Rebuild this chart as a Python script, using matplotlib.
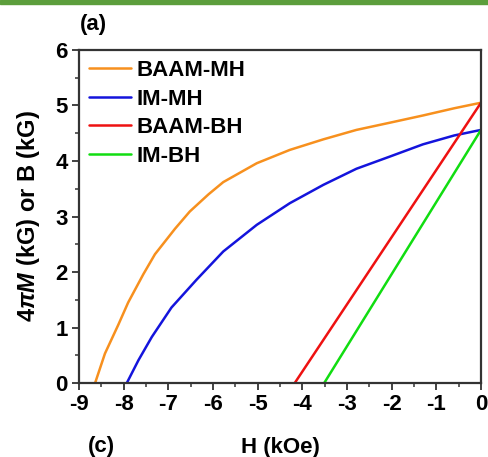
import matplotlib
matplotlib.use("Agg")
import matplotlib.pyplot as plt
from matplotlib.ticker import MultipleLocator

plt.rcParams['font.family'] = ['Liberation Sans', 'DejaVu Sans']
plt.rcParams['font.weight'] = 'bold'
plt.rcParams['axes.unicode_minus'] = False
plt.rcParams['mathtext.fontset'] = 'custom'
plt.rcParams['mathtext.rm'] = 'Liberation Sans:bold'
plt.rcParams['mathtext.it'] = 'Liberation Sans:italic:bold'
plt.rcParams['mathtext.bf'] = 'Liberation Sans:bold'

FS = 16

baam_mh_h = [-8.64, -8.42, -8.12, -7.90, -7.56, -7.30, -6.85, -6.52, -6.10, -5.77,
             -5.02, -4.28, -3.53, -2.79, -2.04, -1.30, -0.60, 0.0]
baam_mh_m = [0.0, 0.53, 1.05, 1.45, 1.96, 2.32, 2.78, 3.09, 3.40, 3.62,
             3.96, 4.20, 4.39, 4.56, 4.69, 4.82, 4.95, 5.05]
im_mh_h = [-7.93, -7.67, -7.37, -6.93, -6.37, -5.77, -5.02, -4.28, -3.53, -2.79,
           -2.04, -1.30, -0.60, 0.0]
im_mh_m = [0.0, 0.41, 0.83, 1.36, 1.86, 2.37, 2.85, 3.24, 3.57, 3.86,
           4.08, 4.30, 4.46, 4.56]
baam_bh_h = [-4.17, 0.0]
baam_bh_b = [0.0, 5.05]
im_bh_h = [-3.51, 0.0]
im_bh_b = [0.0, 4.56]

fig = plt.figure(figsize=(4.89, 4.57), dpi=100)
ax = fig.add_axes([0.1616, 0.1619, 0.822, 0.7287])

kw = dict(lw=1.8, solid_joinstyle='round', solid_capstyle='round')
ax.plot(baam_mh_h, baam_mh_m, color='#f7901e', label='BAAM-MH', **kw)
ax.plot(im_mh_h, im_mh_m, color='#1414dc', label='IM-MH', **kw)
ax.plot(baam_bh_h, baam_bh_b, color='#ee1111', label='BAAM-BH', **kw)
ax.plot(im_bh_h, im_bh_b, color='#11dd11', label='IM-BH', **kw)

ax.set_xlim(-9, 0)
ax.set_ylim(0, 6)
ax.xaxis.set_major_locator(MultipleLocator(1))
ax.xaxis.set_minor_locator(MultipleLocator(0.5))
ax.yaxis.set_major_locator(MultipleLocator(1))
ax.yaxis.set_minor_locator(MultipleLocator(0.5))
ax.tick_params(which='major', direction='out', length=5, width=1.3, labelsize=FS,
               color='#333333', pad=3)
ax.tick_params(which='minor', direction='out', length=3, width=1.1, color='#333333')
for s in ax.spines.values():
    s.set_linewidth(1.6)
    s.set_color('#333333')

ax.set_xlabel('H (kOe)', fontsize=FS, fontweight='bold', labelpad=16)
ax.set_ylabel(r'$4\pi M$ (kG) or B (kG)', fontsize=17, fontweight='bold', labelpad=10)

ax.legend(loc='upper left', frameon=False, fontsize=FS, handlelength=1.9,
          handletextpad=0.25, labelspacing=0.34, borderaxespad=0.05, borderpad=0.4)

fig.text(0.164, 0.947, '(a)', fontsize=FS, fontweight='bold', va='center')
fig.text(0.18, 0.0, '(c)', fontsize=FS, fontweight='bold', va='bottom')

# green strip along the top edge
fig.patches.append(plt.Rectangle((0, 0.991), 1, 0.009, transform=fig.transFigure,
                                 color='#5c9e3c', zorder=5))

fig.savefig('out.png', dpi=100)
